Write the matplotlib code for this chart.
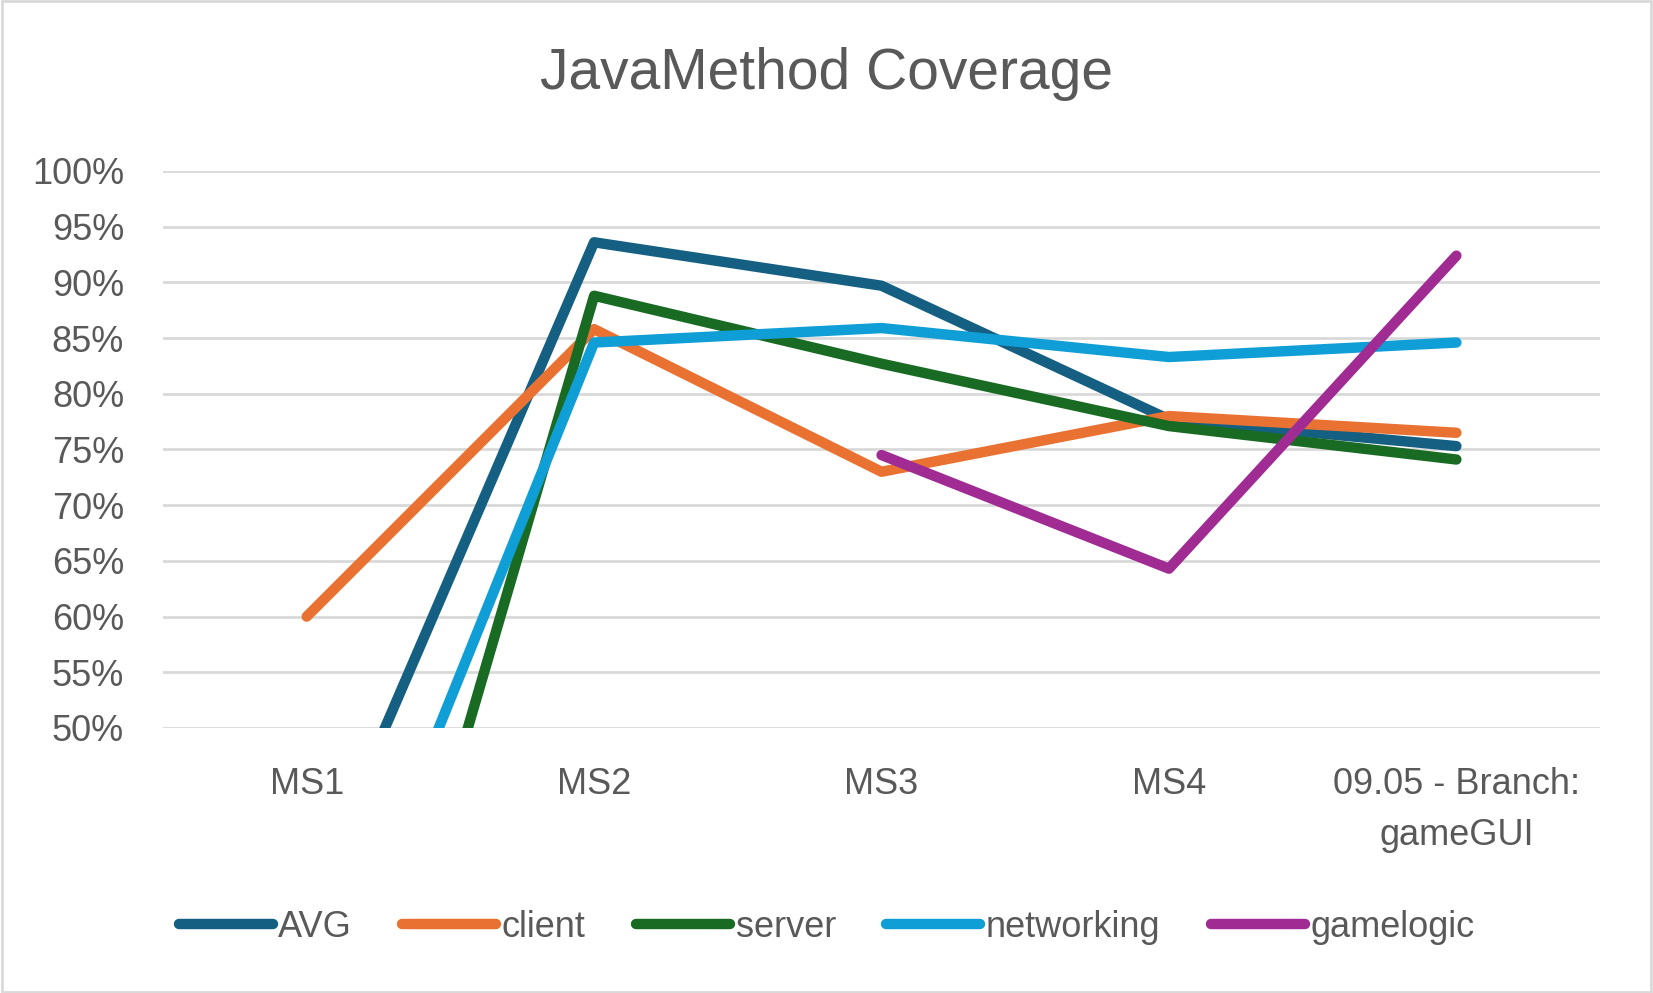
import matplotlib
matplotlib.use("Agg")
import matplotlib.pyplot as plt
from matplotlib.ticker import PercentFormatter
from matplotlib.patches import Rectangle

categories = ["MS1", "MS2", "MS3", "MS4", "09.05 - Branch:\ngameGUI"]
avg = [33.7, 93.6, 89.7, 77.7, 75.3]
client = [60.0, 85.8, 73.0, 78.0, 76.5]
server = [0.5, 88.8, 82.7, 77.1, 74.1]
networking = [20.6, 84.6, 85.9, 83.3, 84.6]
gamelogic = [None, None, 74.5, 64.3, 92.4]

series = [
    ("AVG", avg, "#156082"),
    ("client", client, "#E97132"),
    ("server", server, "#196B24"),
    ("networking", networking, "#0F9ED5"),
    ("gamelogic", gamelogic, "#A02B93"),
]

text_color = "#595959"
plt.rcParams["font.family"] = ["Liberation Sans Narrow", "Liberation Sans", "DejaVu Sans"]

fig = plt.figure(figsize=(16.53, 9.93), dpi=100)
fig.patches.append(Rectangle((0.001, 0.001), 0.998, 0.998, transform=fig.transFigure,
                             fill=False, edgecolor="#D9D9D9", linewidth=2))
ax = fig.add_axes([0.0986, 0.2669, 0.8694, 0.5609])

x = list(range(len(categories)))
for name, vals, color in series:
    xs = [i for i, v in zip(x, vals) if v is not None]
    ys = [v / 100 for v in vals if v is not None]
    ax.plot(xs, ys, color=color, linewidth=7.5, label=name,
            solid_capstyle="round", solid_joinstyle="round")

ax.set_xlim(-0.5, len(categories) - 0.5)
ax.set_ylim(0.5, 1.0)
ax.set_yticks([0.5 + 0.05 * i for i in range(11)])
ax.yaxis.set_major_formatter(PercentFormatter(1.0, decimals=0))
ax.set_xticks(x)
ax.set_xticklabels(categories, linespacing=1.6)
ax.tick_params(axis="both", length=0, labelsize=26, labelcolor=text_color)
ax.tick_params(axis="y", pad=28)
ax.tick_params(axis="x", pad=28)
ax.grid(axis="y", color="#D9D9D9", linewidth=2)
ax.set_axisbelow(True)
for s in ax.spines.values():
    s.set_visible(False)

fig.text(0.5, 0.925, "JavaMethod Coverage", ha="center", va="center",
         fontsize=41, color=text_color)

fig.legend(loc="center", bbox_to_anchor=(0.5, 0.066), ncol=5, frameon=False,
           fontsize=26, labelcolor=text_color, handlelength=2.6,
           handletextpad=0.15, columnspacing=1.4)

fig.savefig("out.png", dpi=100)
